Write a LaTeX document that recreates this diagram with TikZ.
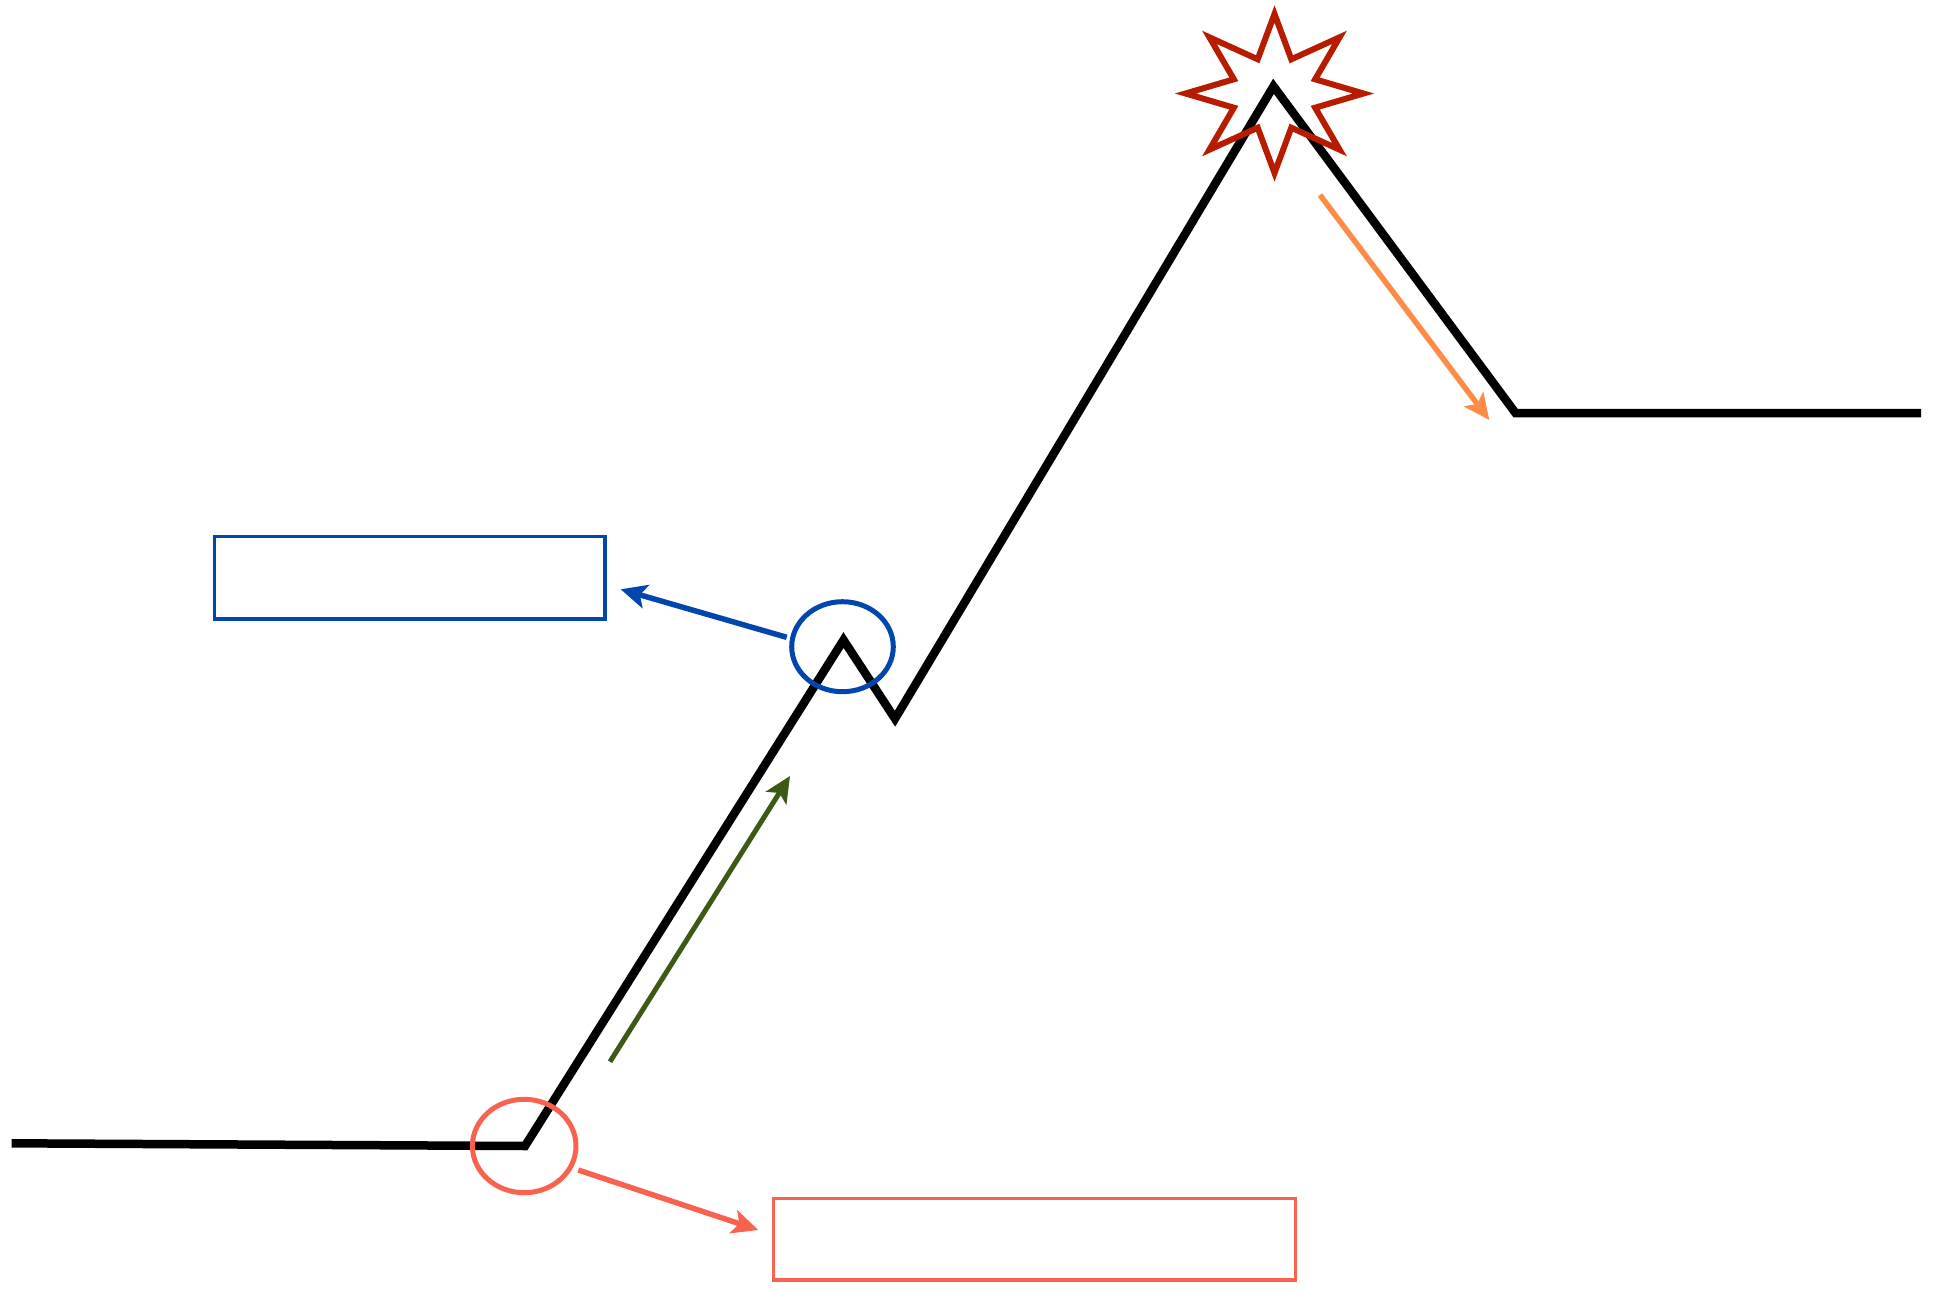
\documentclass[tikz,border=0pt]{standalone}
\usetikzlibrary{arrows.meta}
\definecolor{cblue}{RGB}{0,70,172}
\definecolor{cred}{RGB}{250,98,80}
\definecolor{cgreen}{RGB}{60,90,22}
\definecolor{corange}{RGB}{255,140,70}
\definecolor{cstar}{RGB}{184,28,0}
\tikzset{
  mainline/.style={line width=8.5pt, line join=miter},
  boxb/.style={draw=cblue, line width=3.5pt, minimum width=390.7pt, minimum height=82.3pt, inner sep=0pt},
  boxr/.style={draw=cred, line width=3.5pt, minimum width=522.4pt, minimum height=81.7pt, inner sep=0pt},
  arr/.style={line width=#1, -{Stealth[length=26pt,width=24pt,inset=6pt]}},
  starline/.style={draw=cstar, line width=6pt, line join=miter}
}
\begin{document}
\begin{tikzpicture}[x=1pt,y=-1pt]
\useasboundingbox (0,0) rectangle (1933,1290);
% main polyline
\coordinate (p0) at (11.7,1143.3);
\coordinate (p1) at (525,1146);
\coordinate (p2) at (843.5,640);
\coordinate (p3) at (895,718.7);
\coordinate (p4) at (1273.5,86.3);
\coordinate (p5) at (1515.5,413);
\coordinate (p6) at (1921,413);
\draw[mainline] (p0) -- (p1) -- (p2) -- (p3) -- (p4) -- (p5) -- (p6);
% boxes
\node[boxb] (bbox) at (409.7,577.8) {};
\node[boxr] (rbox) at (1034.5,1239.1) {};
% ellipses
\coordinate (bring) at (842.5,646.7);
\draw[cblue, line width=5pt] (bring) ellipse [x radius=50.8, y radius=45];
\coordinate (rring) at (524.2,1146);
\draw[cred, line width=5pt] (rring) ellipse [x radius=51.8, y radius=46.7];
% arrow ends
\coordinate (bt) at (786.7,637.3);
\coordinate (bh) at (620.7,589.3);
\coordinate (rt) at (578.3,1170);
\coordinate (rh) at (758.3,1230);
\coordinate (gt) at (610,1061.7);
\coordinate (gh) at (790,776);
\coordinate (ot) at (1320,195);
\coordinate (oh) at (1489.3,420);
\draw[arr=5.5pt, cblue] (bt) -- (bh);
\draw[arr=5.5pt, cred] (rt) -- (rh);
\draw[arr=5pt, cgreen] (gt) -- (gh);
\draw[arr=5.5pt, corange] (ot) -- (oh);
% star
\begin{scope}[shift={(1274.5,93.5)}]
\draw[starline] (0,-79.5) -- (16.8,-34.2) -- (65.1,-56.2) -- (40.65,-14.2)
  -- (89,0) -- (40.65,14.2) -- (65.1,56.2) -- (16.8,34.2)
  -- (0,79.5) -- (-16.8,34.2) -- (-65.1,56.2) -- (-40.65,14.2)
  -- (-89,0) -- (-40.65,-14.2) -- (-65.1,-56.2) -- (-16.8,-34.2) -- cycle;
\end{scope}
\end{tikzpicture}
\end{document}
